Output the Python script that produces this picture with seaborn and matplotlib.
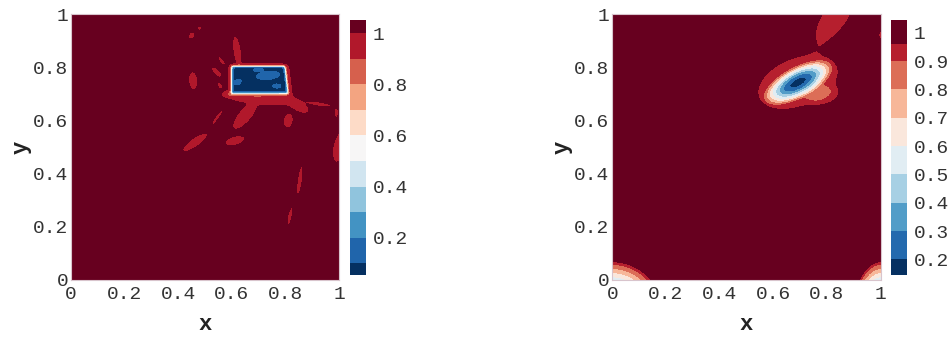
import matplotlib
matplotlib.use("Agg")
import matplotlib.pyplot as plt
import seaborn as sns
import numpy as np

# ---- values ----
tick_vals = [0, 0.2, 0.4, 0.6, 0.8, 1]
tick_labels = ["0", "0.2", "0.4", "0.6", "0.8", "1"]

# left panel: contour levels and colorbar ticks
left_levels = [0.054, 0.1, 0.2, 0.3, 0.4, 0.5, 0.6, 0.7, 0.8, 0.9, 1.0, 1.052]
left_cbar_ticks = [0.2, 0.4, 0.6, 0.8, 1.0]
left_cbar_labels = ["0.2", "0.4", "0.6", "0.8", "1"]
left_background = 1.03
left_rect_x = [0.598, 0.800]      # left / right edge (top)
left_rect_y = [0.700, 0.806]      # bottom / top edge
left_rect_skew = 0.012            # right edge leans out at the bottom
left_rect_floor = 0.06
left_halo_x = [0.588, 0.814]
left_halo_y = [0.688, 0.812]
# light blue spots inside the box: cx, cy, semi-major, semi-minor, angle
left_inner_cx = [0.735, 0.622, 0.768, 0.700]
left_inner_cy = [0.770, 0.745, 0.730, 0.790]
left_inner_a = [0.045, 0.014, 0.016, 0.020]
left_inner_b = [0.016, 0.010, 0.008, 0.006]
left_inner_ang = [5, 20, 0, 0]
# red (0.9-1.0) patches: cx, cy, semi-major, semi-minor, angle
patch_cx = [0.620, 0.450, 0.481, 0.456, 0.544, 0.710, 0.845, 0.925, 0.650,
            0.811, 0.463, 0.612, 0.546, 1.000, 0.990, 0.854, 0.817, 0.556,
            0.562, 0.585]
patch_cy = [0.862, 0.920, 0.948, 0.750, 0.782, 0.683, 0.658, 0.662, 0.620,
            0.600, 0.518, 0.524, 0.612, 0.500, 0.630, 0.375, 0.240, 0.731,
            0.825, 0.700]
patch_a = [0.058, 0.014, 0.008, 0.034, 0.024, 0.130, 0.048, 0.045, 0.066,
           0.028, 0.055, 0.038, 0.034, 0.058, 0.018, 0.055, 0.034, 0.014,
           0.018, 0.022]
patch_b = [0.015, 0.011, 0.008, 0.017, 0.011, 0.026, 0.022, 0.008, 0.025,
           0.018, 0.017, 0.017, 0.007, 0.022, 0.008, 0.009, 0.008, 0.008,
           0.008, 0.014]
patch_ang = [98, 60, 0, 95, 135, -5, -30, -8, 50, 80, 35, 15, 55, 80, 90,
             82, 78, 120, 130, 0]

# right panel
right_levels = [0.145, 0.2, 0.3, 0.4, 0.5, 0.6, 0.7, 0.8, 0.9, 0.96, 1.045]
right_cbar_ticks = [0.2, 0.3, 0.4, 0.5, 0.6, 0.7, 0.8, 0.9, 1.0]
right_cbar_labels = ["0.2", "0.3", "0.4", "0.5", "0.6", "0.7", "0.8", "0.9", "1"]
right_background = 1.01
right_min = 0.15
# deep dips (core blob, two bottom corners): cx, cy, rx, ry, angle
dip_cx = [0.692, 0.000, 1.000]
dip_cy = [0.743, -0.120, -0.120]
dip_rx = [0.152, 0.200, 0.110]
dip_ry = [0.064, 0.200, 0.200]
dip_ang = [28, 0, 0]
# shallow red patches: cx, cy, rx, ry, angle, depth
shallow_cx = [0.692, 0.830, 1.010, 0.775]
shallow_cy = [0.745, 0.990, 0.922, 0.700]
shallow_rx = [0.190, 0.130, 0.020, 0.070]
shallow_ry = [0.110, 0.055, 0.022, 0.040]
shallow_ang = [22, 55, 0, 0]
shallow_depth = [0.08, 0.08, 0.08, 0.08]

# ---- build fields ----
n = 400
gx = np.linspace(0, 1, n)
X, Y = np.meshgrid(gx, gx)


def ell_dist(cx, cy, a, b, ang):
    t = np.deg2rad(ang)
    u = (X - cx) * np.cos(t) + (Y - cy) * np.sin(t)
    v = -(X - cx) * np.sin(t) + (Y - cy) * np.cos(t)
    return np.sqrt((u / a) ** 2 + (v / b) ** 2)


def sig(z):
    return 1 / (1 + np.exp(-z))


# left
Z1 = np.full_like(X, left_background)
for cx, cy, a, b, ang in zip(patch_cx, patch_cy, patch_a, patch_b, patch_ang):
    Z1 -= 0.08 * np.exp(-ell_dist(cx, cy, a, b, ang) ** 4)
halo = (sig((X - left_halo_x[0]) / 0.004) * sig((left_halo_x[1] + left_rect_skew * (left_halo_y[1] - Y) / 0.1 - X) / 0.004)
        * sig((Y - left_halo_y[0]) / 0.004) * sig((left_halo_y[1] - Y) / 0.004))
Z1 -= 0.07 * halo
xr = left_rect_x[1] + left_rect_skew * (left_rect_y[1] - Y) / (left_rect_y[1] - left_rect_y[0])
w = 0.0025
box = (sig((X - left_rect_x[0]) / w) * sig((xr - X) / w)
       * sig((Y - left_rect_y[0]) / w) * sig((left_rect_y[1] - Y) / w))
Z1 = Z1 * (1 - box) + left_rect_floor * box
for cx, cy, a, b, ang in zip(left_inner_cx, left_inner_cy, left_inner_a, left_inner_b, left_inner_ang):
    Z1 += 0.09 * box * np.exp(-ell_dist(cx, cy, a, b, ang) ** 4)
Z1 = np.clip(Z1, left_levels[0] + 1e-3, left_levels[-1] - 1e-3)

# right
Z2 = np.full_like(X, right_background)
for cx, cy, a, b, ang, dep in zip(shallow_cx, shallow_cy, shallow_rx, shallow_ry, shallow_ang, shallow_depth):
    Z2 -= dep * np.exp(-ell_dist(cx, cy, a, b, ang) ** 4)
for cx, cy, a, b, ang in zip(dip_cx, dip_cy, dip_rx, dip_ry, dip_ang):
    g = np.clip(1 - ell_dist(cx, cy, a, b, ang) ** 2, 0, 1) ** 1.3
    Z2 = Z2 - (Z2 - right_min) * g
Z2 = np.clip(Z2, right_levels[0] + 1e-3, right_levels[-1] - 1e-3)

# ---- plot ----
sns.set_theme(style="white")
plt.rcParams['font.family'] = ['Liberation Mono', 'DejaVu Sans']

cmap = sns.color_palette("RdBu_r", as_cmap=True)
left_colors = [cmap(v) for v in np.linspace(0, 1, 11)]
right_colors = [cmap(v) for v in np.linspace(0, 1, 10)]

fig = plt.figure(figsize=(9.5, 3.4), dpi=100)
ax1 = fig.add_axes([0.0747, 0.1765, 0.2821, 0.7815])
cax1 = fig.add_axes([0.3684, 0.1912, 0.0165, 0.75])
ax2 = fig.add_axes([0.6445, 0.1765, 0.2825, 0.7815])
cax2 = fig.add_axes([0.9379, 0.1912, 0.0165, 0.75])

panels = [(ax1, cax1, Z1, left_levels, left_colors, left_cbar_ticks, left_cbar_labels),
          (ax2, cax2, Z2, right_levels, right_colors, right_cbar_ticks, right_cbar_labels)]

for ax, cax, Z, levels, colors, cticks, clabels in panels:
    cs = ax.contourf(X, Y, Z, levels=levels, colors=colors)
    ax.set_xlim(0, 1)
    ax.set_ylim(0, 1)
    ax.set_xticks(tick_vals)
    ax.set_xticklabels(tick_labels)
    ax.set_yticks(tick_vals)
    ax.set_yticklabels(tick_labels)
    ax.tick_params(axis='x', length=0, pad=4, labelsize=14, colors='#333333')
    ax.tick_params(axis='y', length=0, pad=2, labelsize=14, colors='#333333')
    for s in ax.spines.values():
        s.set_color('#d8c4cc')
        s.set_linewidth(0.8)
    ax.set_xlabel("x", fontsize=16, fontweight='bold', labelpad=8, color='#222222')
    ax.set_ylabel("y", fontsize=16, fontweight='bold', labelpad=1, color='#222222')

    cb = fig.colorbar(cs, cax=cax, spacing='proportional')
    cb.set_ticks(cticks)
    cb.set_ticklabels(clabels)
    cb.outline.set_visible(False)
    cax.tick_params(length=0, pad=5, labelsize=14, colors='#333333')

plt.savefig("out.png", dpi=100)
plt.close()
